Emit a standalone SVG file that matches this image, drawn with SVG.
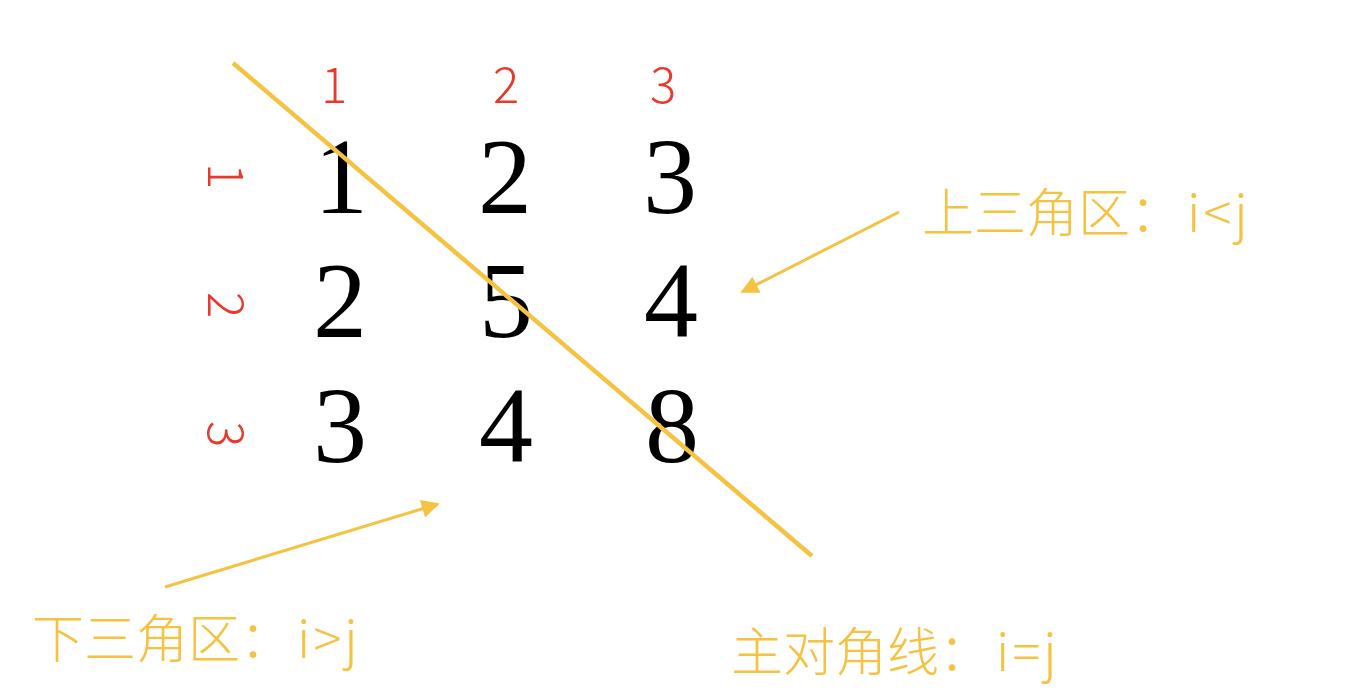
<svg xmlns="http://www.w3.org/2000/svg" width="1360" height="692" viewBox="0 0 1360 692">
<style>
.cell{font-family:"Liberation Serif","DejaVu Serif",serif;font-size:108px;fill:#000;text-anchor:middle}
.idx{font-family:"Noto Sans CJK SC","Noto Sans",sans-serif;font-weight:300;font-size:49px;fill:#E8392C;text-anchor:middle}
.note{font-family:"Noto Sans CJK SC","Noto Sans",sans-serif;font-weight:300;font-size:52px;fill:#F5C242}
.ascii{letter-spacing:3px}
.conn{stroke:#F5C242;fill:none}
</style>
<defs>
<marker id="ah" viewBox="0 0 10 10" refX="9" refY="5" markerWidth="7" markerHeight="6" orient="auto" markerUnits="strokeWidth">
<path d="M0,0 L10,5 L0,10 z" fill="#F5C242"/>
</marker>
</defs>
<rect width="1360" height="692" fill="#fff"/>
<g id="col-index">
<text class="idx" x="334" y="103">1</text>
<text class="idx" x="506" y="103">2</text>
<text class="idx" x="663" y="103">3</text>
</g>
<g id="row-index">
<text class="idx" transform="translate(225,176) rotate(90)" x="0" y="17.5">1</text>
<text class="idx" transform="translate(225,305) rotate(90)" x="0" y="17.5">2</text>
<text class="idx" transform="translate(225,434) rotate(90)" x="0" y="17.5">3</text>
</g>
<g id="matrix">
<text class="cell" x="341" y="213">1</text>
<text class="cell" x="505" y="213">2</text>
<text class="cell" x="670" y="213">3</text>
<text class="cell" x="340" y="337">2</text>
<text class="cell" x="506" y="337">5</text>
<text class="cell" x="671" y="337">4</text>
<text class="cell" x="340" y="462">3</text>
<text class="cell" x="506" y="462">4</text>
<text class="cell" x="672" y="462">8</text>
</g>
<g id="connectors">
<line class="conn" x1="233" y1="63" x2="812" y2="556" stroke-width="4.5"/>
<line class="conn" x1="899" y1="212" x2="742" y2="292" stroke-width="3" marker-end="url(#ah)"/>
<line class="conn" x1="165" y1="587" x2="438" y2="504" stroke-width="3" marker-end="url(#ah)"/>
</g>
<g id="upper-label"><text class="note" x="922" y="232">上三角区：<tspan class="ascii" dx="5">i&lt;j</tspan></text></g>
<g id="lower-label"><text class="note" x="32" y="658">下三角区：<tspan class="ascii" dx="5">i&gt;j</tspan></text></g>
<g id="diag-label"><text class="note" x="731" y="671">主对角线：<tspan class="ascii" dx="5">i=j</tspan></text></g>
</svg>
